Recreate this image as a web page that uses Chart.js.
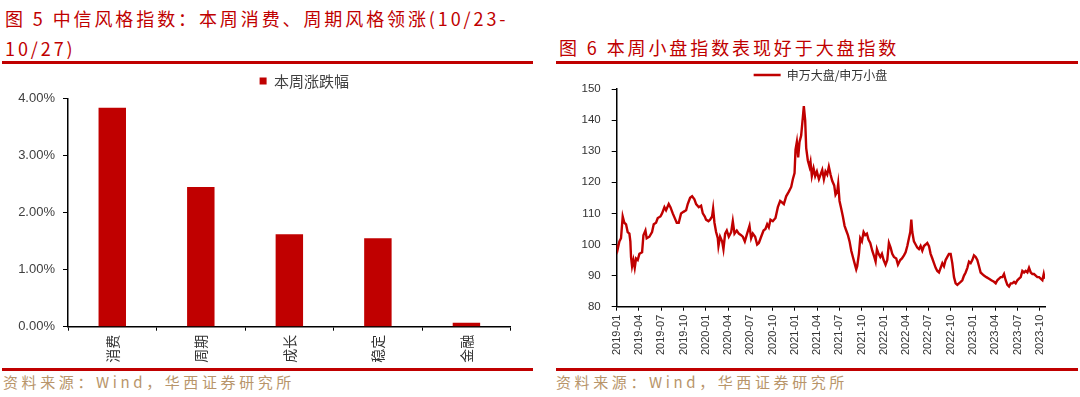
<!DOCTYPE html>
<html>
<head>
<meta charset="utf-8">
<script src="https://cdn.jsdelivr.net/npm/chart.js@4.4.0/dist/chart.umd.min.js"></script>
<style>
  body { margin: 0; width: 1080px; height: 397px; background: #fff; position: relative; overflow: hidden; }
  .title { position: absolute; color: #C00000; font-family: 'Noto Sans CJK SC', sans-serif; font-size: 18px; line-height: 30px; letter-spacing: 2.9px; white-space: nowrap; }
  .rule { position: absolute; height: 3px; background: #C00000; }
  .source { position: absolute; top: 372px; color: #B8956A; font-family: 'Noto Sans CJK SC', sans-serif; font-size: 15px; line-height: 20px; letter-spacing: 3.6px; white-space: nowrap; }
  canvas { position: absolute; }
</style>
</head>
<body>
<div class="title" style="left:5px; top:3px;">图 5 中信风格指数：本周消费、周期风格领涨(10/23-<br>10/27)</div>
<div class="title" style="left:559px; top:32px;">图 6 本周小盘指数表现好于大盘指数</div>
<div class="rule" style="left:2px; width:531px; top:61px;"></div>
<div class="rule" style="left:556px; width:522px; top:61px;"></div>

<canvas id="styleChart" width="533" height="298" style="left:0; top:70px;"></canvas>
<canvas id="ratioChart" width="524" height="301" style="left:556px; top:67px;"></canvas>

<div class="rule" style="left:2px; width:531px; top:368px;"></div>
<div class="rule" style="left:556px; width:522px; top:368px;"></div>
<div class="source" style="left:3px;">资料来源：Wind，华西证券研究所</div>
<div class="source" style="left:556px;">资料来源：Wind，华西证券研究所</div>

<script>
// 图5 data
const styleNames = ['消费', '周期', '成长', '稳定', '金融'];
const weeklyChange = [3.84, 2.45, 1.62, 1.55, 0.07];

// 图6 data: [months since 2019-01, 申万大盘/申万小盘]
const quarterLabels = ['2019-01', '2019-04', '2019-07', '2019-10', '2020-01', '2020-04', '2020-07', '2020-10',
  '2021-01', '2021-04', '2021-07', '2021-10', '2022-01', '2022-04', '2022-07', '2022-10',
  '2023-01', '2023-04', '2023-07', '2023-10'];
const ratioPoints = [
  [0, 100], [0.13, 98.5], [0.36, 101], [0.58, 102], [0.81, 109], [1.03, 107], [1.26, 106.5], [1.48, 104],
  [1.71, 103.5], [1.84, 101], [1.93, 96], [2.07, 93], [2.25, 95], [2.43, 92.5], [2.61, 95.5], [2.83, 95],
  [3.06, 97], [3.42, 97.5], [3.60, 103], [3.87, 104.5], [4.04, 102], [4.40, 102.5], [4.76, 104], [4.99, 106.5],
  [5.30, 107], [5.53, 108.5], [5.89, 109], [6.11, 110], [6.43, 112], [6.65, 111], [7.01, 113], [7.24, 112],
  [7.55, 110], [7.91, 108], [8.09, 107], [8.36, 107], [8.67, 110], [8.99, 110.5], [9.35, 111], [9.57, 113],
  [9.89, 115], [10.16, 115.5], [10.47, 114.5], [10.70, 113], [11.06, 112], [11.37, 112.5], [11.60, 110], [11.87, 109],
  [12.04, 108], [12.36, 107.5], [12.58, 108], [12.85, 109], [12.99, 111.5], [13.17, 107], [13.39, 104], [13.62, 102],
  [13.71, 99.5], [13.93, 102.5], [14.20, 101], [14.38, 98.5], [14.61, 103.5], [14.83, 104.5], [15.10, 102.5], [15.42, 104],
  [15.64, 107.5], [15.87, 103.5], [16.18, 104.5], [16.45, 103.5], [16.76, 103], [16.99, 102.5], [17.26, 101], [17.57, 103.5],
  [17.89, 106], [18.11, 102], [18.34, 103.5], [18.65, 102.5], [18.92, 100], [19.15, 100.5], [19.46, 102.5], [19.78, 104.5],
  [20.04, 105], [20.27, 106.5], [20.49, 105.5], [20.72, 108], [21.03, 107.5], [21.39, 108.5], [21.71, 112], [22.02, 114],
  [22.29, 113.5], [22.52, 113], [22.83, 115.5], [23.19, 117], [23.51, 118.5], [23.73, 121], [23.96, 123], [24.09, 130.5],
  [24.27, 133], [24.45, 128], [24.63, 133], [24.85, 135], [25.08, 141], [25.21, 144.5], [25.39, 140], [25.53, 131],
  [25.75, 127], [25.98, 125], [26.11, 126.5], [26.29, 122], [26.52, 124.5], [26.74, 122], [26.97, 123.5], [27.24, 121],
  [27.46, 122.5], [27.69, 124], [27.91, 121], [28.13, 123.5], [28.36, 122.5], [28.58, 125], [28.81, 122.5], [29.03, 120.5],
  [29.30, 119], [29.48, 116], [29.71, 117], [29.84, 119.5], [30.02, 114], [30.25, 111.5], [30.47, 109], [30.70, 106],
  [30.92, 104.5], [31.15, 103], [31.37, 101], [31.60, 98], [31.82, 96], [32.04, 94], [32.27, 92], [32.40, 93],
  [32.63, 97], [32.81, 102], [33.03, 101], [33.26, 104], [33.48, 103], [33.71, 103.5], [33.93, 101.5], [34.16, 100.5],
  [34.43, 98], [34.70, 96], [34.88, 94.5], [35.06, 98.5], [35.28, 97], [35.51, 96], [35.73, 97], [35.96, 95],
  [36.22, 93.5], [36.45, 95], [36.67, 100.5], [36.90, 99], [37.12, 97], [37.35, 96], [37.66, 95.5], [37.89, 93.5],
  [38.20, 95], [38.43, 95.5], [38.70, 96.5], [38.92, 97.5], [39.15, 99.5], [39.37, 102], [39.55, 104], [39.69, 108],
  [39.82, 104], [40.04, 101], [40.27, 100], [40.49, 99], [40.72, 98.5], [40.94, 99.5], [41.17, 98], [41.39, 99.5],
  [41.62, 100], [41.84, 100.5], [42.07, 99.5], [42.29, 97], [42.52, 95.5], [42.74, 94], [42.97, 92.5], [43.19, 91.5],
  [43.42, 91], [43.64, 92.5], [43.87, 94], [44.09, 93], [44.31, 95], [44.54, 96], [44.76, 97], [44.99, 97],
  [45.21, 94], [45.44, 89.5], [45.66, 87.5], [45.89, 87], [46.11, 87.5], [46.34, 88], [46.56, 88.5], [46.79, 90],
  [47.01, 91], [47.24, 92.5], [47.46, 94.5], [47.69, 94], [47.91, 95], [48.13, 96.5], [48.36, 96], [48.58, 95],
  [48.81, 93], [49.03, 91], [49.26, 90.5], [49.48, 90], [49.80, 89.5], [50.16, 89], [50.47, 88.5], [50.83, 88],
  [51.06, 87.5], [51.28, 88.5], [51.51, 89], [51.73, 89.5], [51.96, 89.5], [52.18, 90.5], [52.40, 88.5], [52.63, 87],
  [52.85, 86.5], [53.08, 87.5], [53.30, 87.5], [53.53, 88], [53.75, 87.5], [53.98, 88.5], [54.20, 89], [54.43, 89.5],
  [54.65, 91.5], [54.88, 91], [55.10, 91.5], [55.33, 91], [55.55, 92.5], [55.78, 91], [56.00, 90.5], [56.22, 90.5],
  [56.45, 90], [56.67, 89.5], [56.90, 89.5], [57.12, 89], [57.35, 88.5], [57.53, 90.5], [57.66, 89]
];

const red = '#C00000';
const fontFamily = "'Liberation Sans', 'Noto Sans CJK SC', sans-serif";
const cjkFamily = "'Noto Sans CJK SC', sans-serif";

// move the legend after layout so it sits where the original one is
const shiftLegend = {
  id: 'shiftLegend',
  afterLayout(chart, args, opts) {
    const lg = chart.legend;
    lg.left += opts.x; lg.right += opts.x;
    lg.top += opts.y; lg.bottom += opts.y;
  }
};

const axisLine = { color: '#000', width: 1.5 };

new Chart(document.getElementById('styleChart'), {
  type: 'bar',
  data: {
    labels: styleNames,
    datasets: [{
      label: '本周涨跌幅',
      data: weeklyChange,
      backgroundColor: red,
      borderWidth: 0,
      barPercentage: 0.31,
      categoryPercentage: 1
    }]
  },
  plugins: [shiftLegend],
  options: {
    responsive: false,
    animation: false,
    layout: { padding: { left: 0, right: 22.3, top: 0, bottom: 0 } },
    plugins: {
      shiftLegend: { x: 49, y: 0 },
      tooltip: { enabled: false },
      legend: {
        labels: { boxWidth: 7, boxHeight: 7, padding: 3.5, color: '#404040', font: { family: cjkFamily, size: 15 } }
      }
    },
    scales: {
      x: {
        border: axisLine,
        grid: { drawOnChartArea: false, color: '#000', tickLength: 4 },
        ticks: { minRotation: 90, maxRotation: 90, padding: 4, color: '#333', font: { family: cjkFamily, size: 14 } },
        afterFit: s => { s.height = 41.3 }
      },
      y: {
        min: 0,
        max: 4,
        border: axisLine,
        grid: { drawOnChartArea: false, color: '#000', tickLength: 5 },
        ticks: {
          stepSize: 1, padding: 8, color: '#404040', font: { family: fontFamily, size: 13 },
          callback: v => v.toFixed(2) + '%'
        },
        afterFit: s => { s.width = 68 }
      }
    }
  }
});

new Chart(document.getElementById('ratioChart'), {
  type: 'line',
  data: {
    datasets: [{
      label: '申万大盘/申万小盘',
      data: ratioPoints.map(p => ({ x: p[0], y: p[1] })),
      borderColor: red,
      backgroundColor: red,
      borderWidth: 2.4,
      pointRadius: 0,
      tension: 0
    }]
  },
  plugins: [shiftLegend],
  options: {
    responsive: false,
    animation: false,
    layout: { padding: { left: 0, right: 35, top: 0, bottom: 0 } },
    plugins: {
      shiftLegend: { x: 20, y: 2 },
      tooltip: { enabled: false },
      legend: {
        labels: { boxWidth: 27, boxHeight: 0, padding: 0, color: '#333', font: { family: cjkFamily, size: 12 } }
      }
    },
    scales: {
      x: {
        type: 'linear',
        min: 0,
        max: 57.7,
        border: axisLine,
        grid: { drawOnChartArea: false, color: '#000', tickLength: 4 },
        ticks: {
          stepSize: 3, includeBounds: false, autoSkip: false,
          minRotation: 90, maxRotation: 90, padding: 4,
          color: '#333', font: { family: fontFamily, size: 11 },
          callback: v => quarterLabels[Math.round(v / 3)] || ''
        },
        afterFit: s => { s.height = 61.3 }
      },
      y: {
        min: 80,
        max: 150,
        border: axisLine,
        grid: { drawOnChartArea: false, color: '#000', tickLength: 5 },
        ticks: { stepSize: 10, padding: 11, color: '#333', font: { family: fontFamily, size: 11.5 } },
        afterFit: s => { s.width = 60.7 }
      }
    }
  }
});
</script>
</body>
</html>
